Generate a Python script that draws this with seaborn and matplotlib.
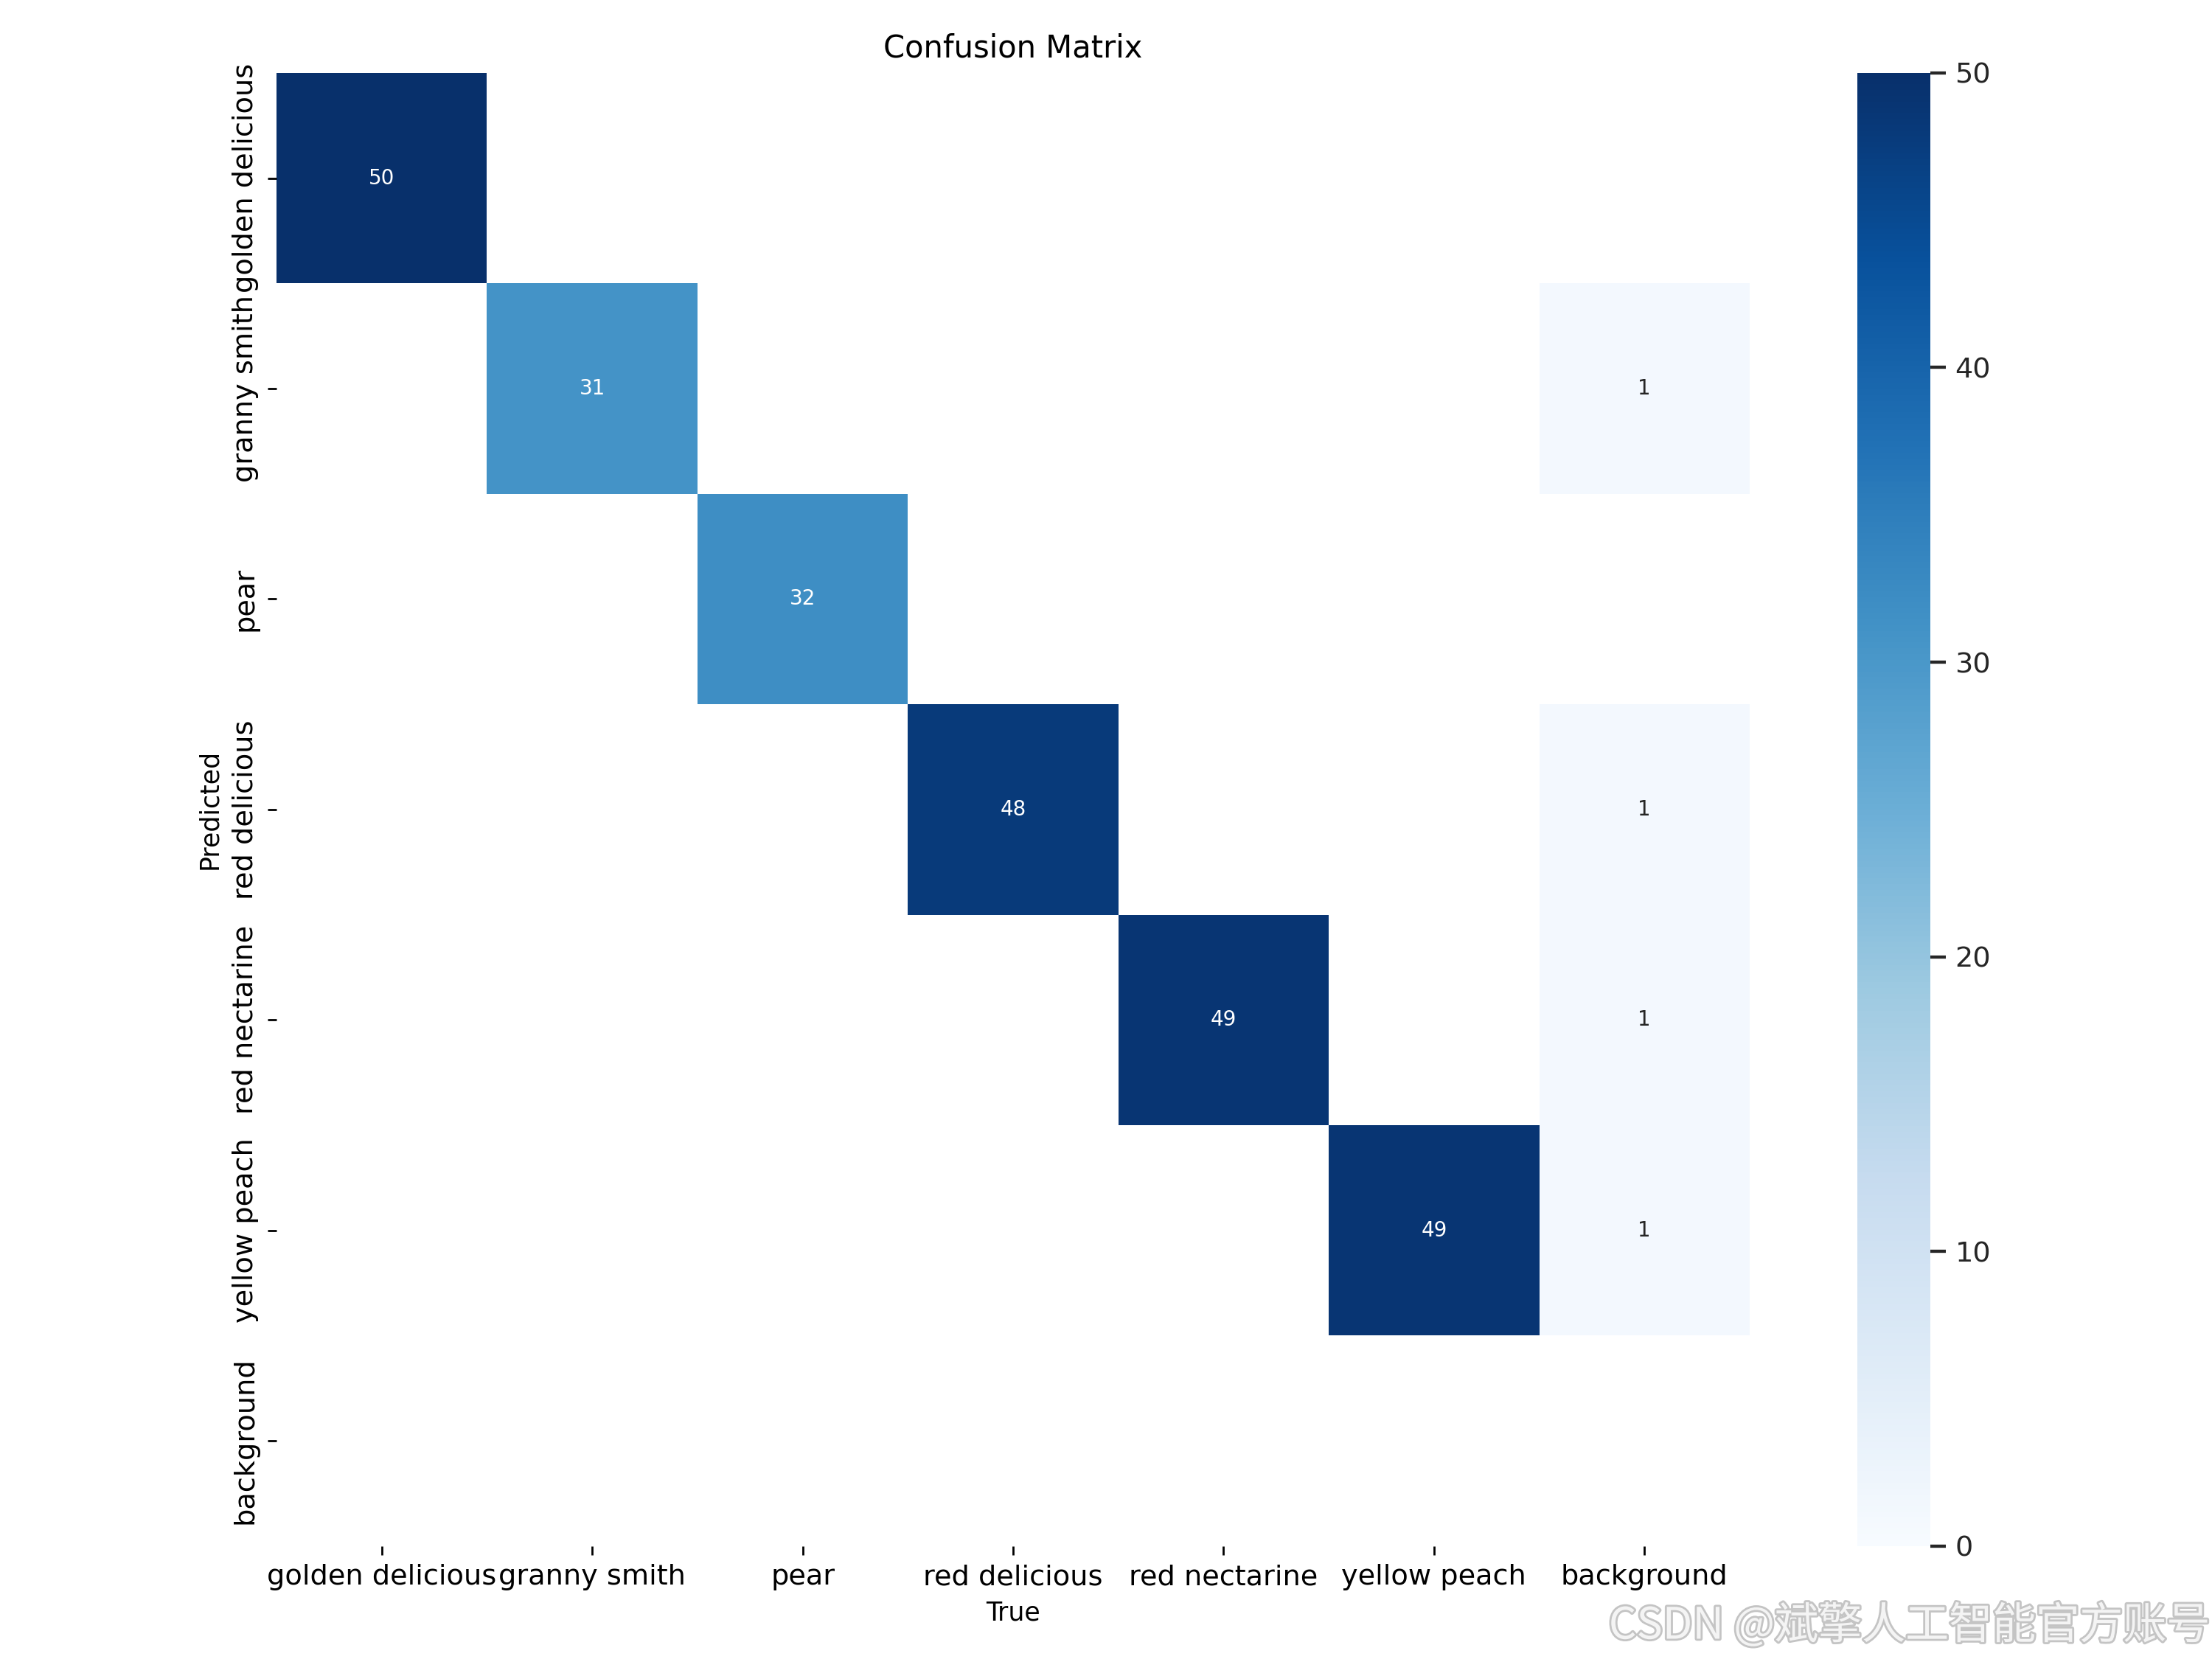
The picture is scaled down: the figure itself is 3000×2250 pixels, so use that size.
import numpy as np
import matplotlib
matplotlib.use("Agg")
import matplotlib.pyplot as plt
import matplotlib.patheffects as pe
import seaborn as sns

# Data
labels = ["golden delicious", "granny smith", "pear", "red delicious",
          "red nectarine", "yellow peach", "background"]
row_golden = [50, 0, 0, 0, 0, 0, 0]
row_granny = [0, 31, 0, 0, 0, 0, 1]
row_pear = [0, 0, 32, 0, 0, 0, 0]
row_red_del = [0, 0, 0, 48, 0, 0, 1]
row_red_nect = [0, 0, 0, 0, 49, 0, 1]
row_yellow = [0, 0, 0, 0, 0, 49, 1]
row_background = [0, 0, 0, 0, 0, 0, 0]

array = np.array([row_golden, row_granny, row_pear, row_red_del,
                  row_red_nect, row_yellow, row_background], dtype=float)
array[array < 0.005] = np.nan

fig, ax = plt.subplots(1, 1, figsize=(12, 9), tight_layout=True)
sns.set_theme(font_scale=1.0)
plt.rcParams['font.family'] = ['DejaVu Sans']
sns.heatmap(array, ax=ax, annot=True, annot_kws={"size": 8}, cmap="Blues",
            fmt=".0f", square=True, vmin=0.0,
            xticklabels=labels, yticklabels=labels).set_facecolor((1, 1, 1))
ax.tick_params(axis="both", labelsize=11)
ax.set_xlabel("True")
ax.set_ylabel("Predicted")
ax.set_title("Confusion Matrix")

fig.text(0.999, 0.006, "CSDN @斌擎人工智能官方账号", ha="right", va="bottom",
         fontsize=17, color="#f4f4f4",
         family=["Noto Sans CJK SC", "DejaVu Sans"],
         path_effects=[pe.withStroke(linewidth=1.6, foreground="#c4c4c4")])

fig.savefig("out.png", dpi=250)
